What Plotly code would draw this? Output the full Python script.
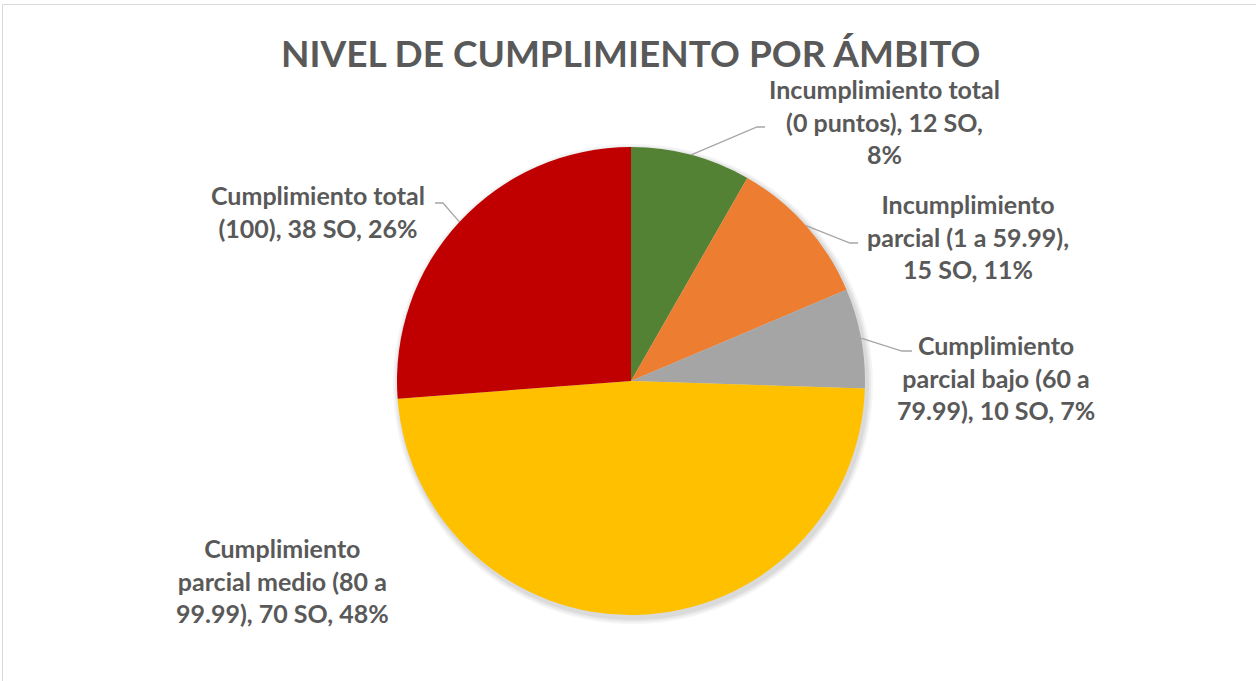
import math
import plotly.graph_objects as go

# ---- data ----
categories = [
    "Incumplimiento total (0 puntos)",
    "Incumplimiento parcial (1 a 59.99)",
    "Cumplimiento parcial bajo (60 a 79.99)",
    "Cumplimiento parcial medio (80 a 99.99)",
    "Cumplimiento total (100)",
]
so_counts = [12, 15, 10, 70, 38]
pct_labels = ["8%", "11%", "7%", "48%", "26%"]
label_texts = [
    "Incumplimiento total<br>(0 puntos), 12 SO,<br>8%",
    "Incumplimiento<br>parcial (1 a 59.99),<br>15 SO, 11%",
    "Cumplimiento<br>parcial bajo (60 a<br>79.99), 10 SO, 7%",
    "Cumplimiento<br>parcial medio (80 a<br>99.99), 70 SO, 48%",
    "Cumplimiento total<br>(100), 38 SO, 26%",
]
colors = ["#548235", "#ED7D31", "#A5A5A5", "#FFC000", "#C00000"]
title_text = "NIVEL DE CUMPLIMIENTO POR ÁMBITO"

# ---- layout (pixels in the screenshot) ----
W, H = 1256, 681
OFF = 0  # page body margin removed via post_script
CX, CY, R = 631, 381, 234
label_centers = [(884, 121), (968, 236), (996, 377), (282, 580), (318, 212)]
leader_bends = [((757, 127), (765, 127)), ((850, 243), (858, 243)),
                ((902, 351), (912, 351)), None, ((443, 203), (435, 203))]

def px(x):
    return (x - OFF) / W

def py(y):
    return 1 - (y - OFF) / H

fig = go.Figure()

# subtle shadow
for d, op in [(6, 0.04), (4, 0.05), (2, 0.06)]:
    fig.add_shape(type="circle", xref="paper", yref="paper", layer="below",
                  x0=px(CX - R - d + 2), x1=px(CX + R + d + 2),
                  y0=py(CY + R + d + 3), y1=py(CY - R - d + 3),
                  fillcolor=f"rgba(0,0,0,{op})", line_width=0)

fig.add_trace(go.Pie(
    labels=categories, values=so_counts, sort=False, direction="clockwise",
    rotation=0, marker=dict(colors=colors, line=dict(width=0)),
    textinfo="none", hoverinfo="label+value+percent", showlegend=False,
    domain=dict(x=[px(CX - R), px(CX + R)], y=[py(CY + R), py(CY - R)]),
))

total = sum(so_counts)
cum = 0
font = dict(family="Lato, Open Sans, sans-serif", size=25, color="#595959", weight="bold")
for i, v in enumerate(so_counts):
    mid = (cum + v / 2) / total * 2 * math.pi
    cum += v
    sx, sy = CX + R * math.sin(mid), CY - R * math.cos(mid)
    lx, ly = label_centers[i]
    fig.add_annotation(x=px(lx), y=py(ly), xref="paper", yref="paper",
                       text=label_texts[i], showarrow=False, align="center",
                       xanchor="center", yanchor="middle", font=font)
    if leader_bends[i] is not None:
        (bx, by), (ex, ey) = leader_bends[i]
        fig.add_shape(type="path", xref="paper", yref="paper",
                      path=f"M {px(sx)} {py(sy)} L {px(bx)} {py(by)} L {px(ex)} {py(ey)}",
                      line=dict(color="#A6A6A6", width=1.3))

fig.add_annotation(x=px(630), y=py(53), xref="paper", yref="paper", text=title_text,
                   showarrow=False, xanchor="center", yanchor="middle",
                   font=dict(family="Lato, Open Sans, sans-serif", size=37,
                             color="#595959", weight="bold"))

fig.add_shape(type="rect", xref="paper", yref="paper",
              x0=px(2.5), x1=px(1275), y0=py(700), y1=py(4.5),
              line=dict(color="#D9D9D9", width=1), layer="below")

fig.update_layout(width=W, height=H, margin=dict(l=0, r=0, t=0, b=0),
                  paper_bgcolor="white", plot_bgcolor="white")

fig.write_html("out.html", config={"displayModeBar": False},
               post_script="document.body.style.margin='0';document.body.style.overflow='hidden';")
